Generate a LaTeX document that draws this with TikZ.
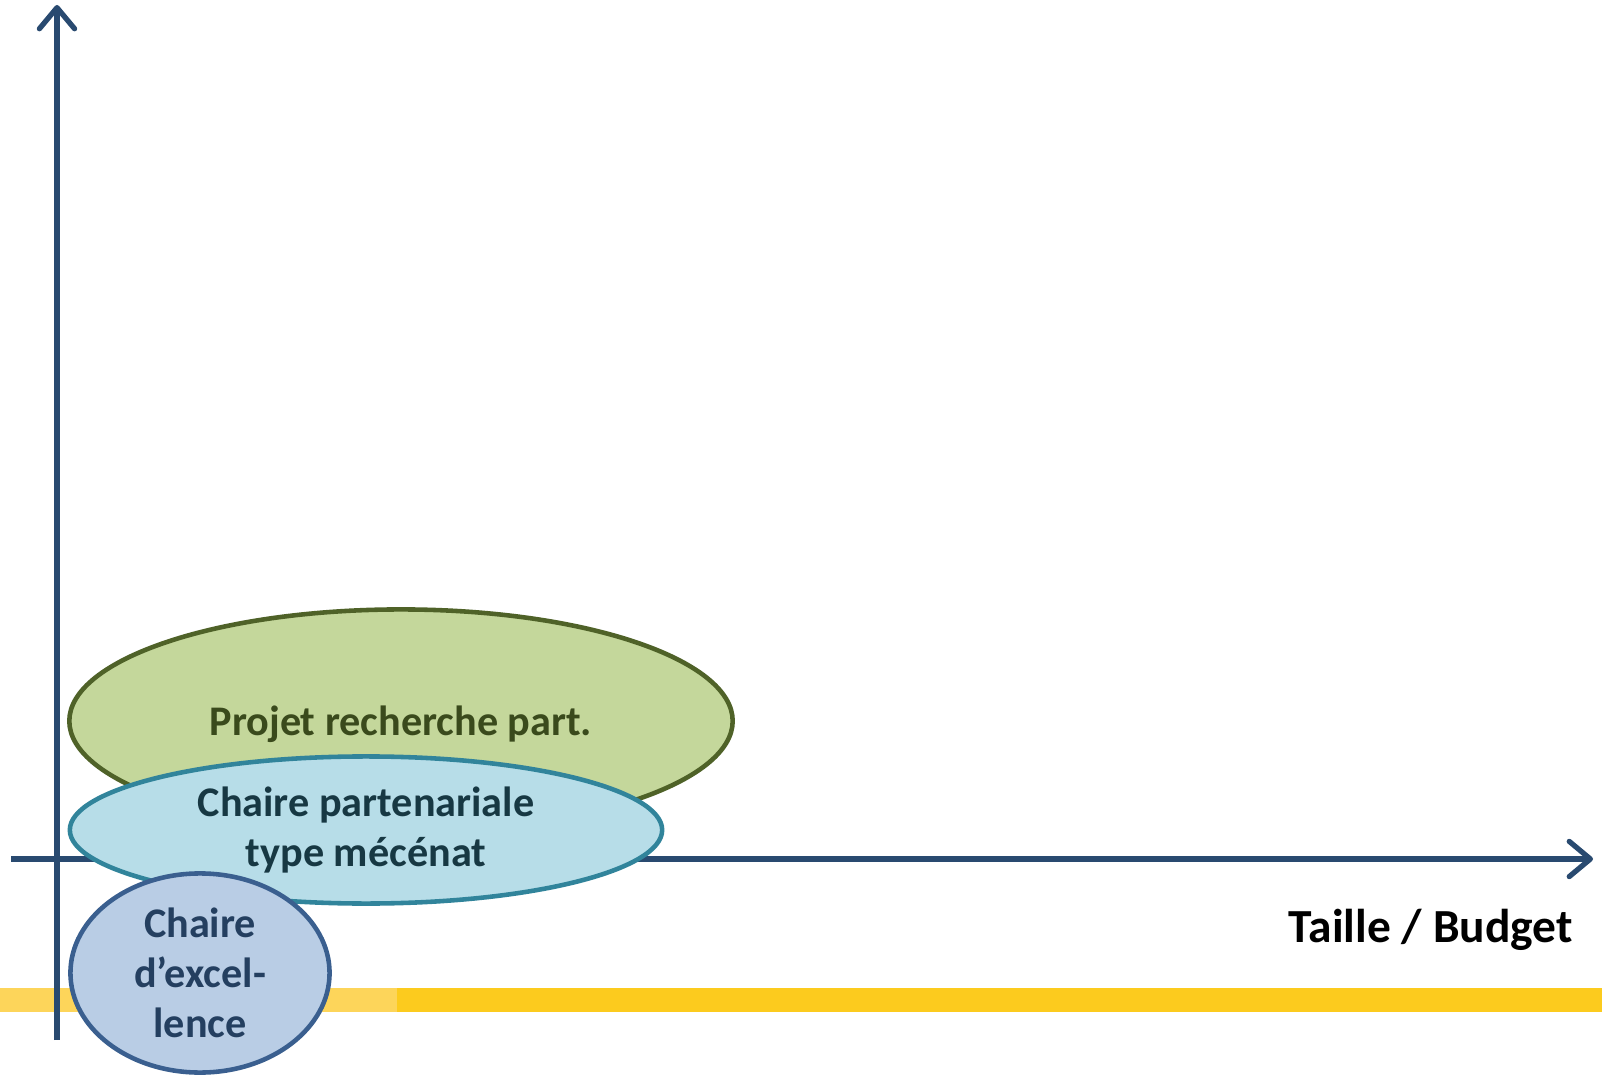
\documentclass[tikz,border=0pt]{standalone}
\usepackage{fontspec}
\setmainfont{Carlito}
\usetikzlibrary{shapes.geometric,arrows.meta}
\definecolor{axisblue}{HTML}{294A70}
\definecolor{bandlight}{HTML}{FDD55A}
\definecolor{banddark}{HTML}{FCCB1E}
\definecolor{projetfill}{HTML}{C4D79B}
\definecolor{projetline}{HTML}{4F6228}
\definecolor{projettext}{HTML}{3A4A1C}
\definecolor{chairefill}{HTML}{B7DDE8}
\definecolor{chaireline}{HTML}{31849B}
\definecolor{chairetext}{HTML}{173843}
\definecolor{excelfill}{HTML}{B9CDE5}
\definecolor{excelline}{HTML}{3A5F8F}
\definecolor{exceltext}{HTML}{243F60}
\begin{document}
\begin{tikzpicture}[x=0.01cm,y=-0.01cm,
    axis/.style={draw=axisblue,line width=1.5pt,-{Straight Barb[length=6pt,width=10pt,round]}},
    bubble/.style={ellipse,inner sep=0pt,line width=1.3pt,align=center,
      font=\fontsize{12}{14.2}\selectfont\bfseries}]
  \useasboundingbox (0,0) rectangle (1602,1076);
  \fill [bandlight] (0,988) rectangle (397,1012);
  \fill [banddark] (397,988) rectangle (1602,1012);

  \coordinate (ytop) at (57,5);
  \coordinate (ybot) at (57,1040);
  \coordinate (xleft) at (11,859);
  \coordinate (xright) at (1593,859);
  \draw [axis] (ybot) -- (ytop);
  \draw [axis] (xleft) -- (xright);

  \node [bubble, draw=projetline, fill=projetfill, text=projettext, text depth=0pt,
    minimum width=6.63cm, minimum height=2.23cm] (projet) at (401,721) {Projet recherche part.};
  \node [bubble, draw=chaireline, fill=chairefill, text=chairetext,
    minimum width=5.92cm, minimum height=1.47cm] (chaire) at (366,830) {Chaire partenariale\\type mécénat};
  \node [bubble, draw=excelline, fill=excelfill, text=exceltext,
    minimum width=2.59cm, minimum height=1.99cm] (excellence) at (200,973) {Chaire\\d’excel-\\lence};
  \node [anchor=east, font=\fontsize{13.5}{16}\selectfont\bfseries] (budget) at (1585,930) {Taille / Budget};
\end{tikzpicture}
\end{document}
